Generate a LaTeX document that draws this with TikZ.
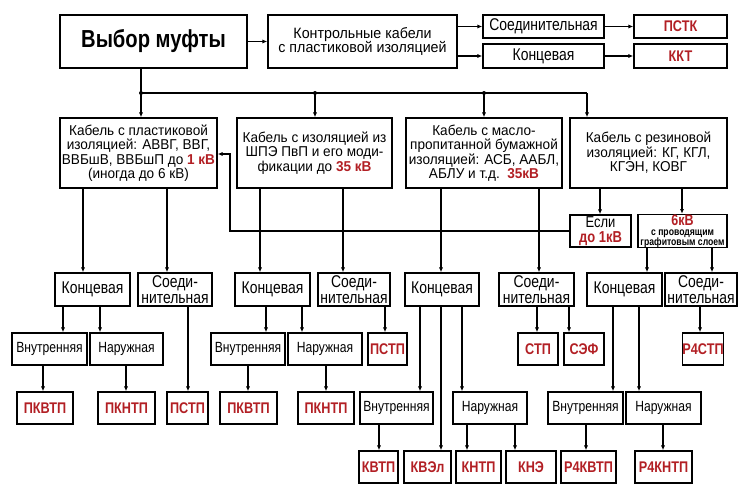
\documentclass[tikz,border=0pt]{standalone}
\usepackage{fontspec}
\setmainfont{Liberation Sans}[FakeStretch=0.95]
\newfontfamily\cond{Liberation Sans}[FakeStretch=0.82]
\usetikzlibrary{arrows.meta}
\definecolor{mred}{HTML}{B21F24}
\newcommand{\kv}[1]{\textcolor{mred}{\bfseries #1}}
\newcommand{\tinyb}{\cond\fontsize{9}{8}\selectfont\bfseries}
\begin{document}
\begin{tikzpicture}[x=0.03cm,y=-0.03cm,
  box/.style={draw,line width=1.4pt,inner sep=0pt,align=center,
    font=\fontsize{12.2}{12.3}\selectfont},
  lbl/.style={box,font=\cond\fontsize{14.5}{13.8}\selectfont},
  sub/.style={box,font=\cond\fontsize{12.6}{12}\selectfont},
  code/.style={box,font=\cond\fontsize{13.2}{12}\selectfont\bfseries,text=mred},
  sz/.style 2 args={minimum width=#1*0.03cm,minimum height=#2*0.03cm},
  arr/.style={line width=1.1pt,-{Latex[length=4pt,width=3.5pt]}},
  line/.style={line width=1.1pt}]
  \useasboundingbox (0,0) rectangle (750,500);
  \node[box,sz={187}{53},font=\cond\fontsize{21}{24}\selectfont\bfseries] (choice) at (153.5,41.5) {Выбор муфты};
  \node[box,sz={189}{53},font=\fontsize{12.8}{12.5}\selectfont] (ctrl) at (362.5,41.5) {Контрольные кабели\\с пластиковой изоляцией};
  \node[lbl,sz={121}{23},font=\cond\fontsize{14.5}{12}\selectfont] (ctrlS) at (543.5,26.5) {Соединительная};
  \node[lbl,sz={121}{24},font=\cond\fontsize{14.5}{12}\selectfont] (ctrlK) at (543.5,56) {Концевая};
  \node[code,sz={93}{23}] (pstk) at (680.5,26.5) {ПСТК};
  \node[code,sz={93}{24}] (kkt) at (680.5,56) {ККТ};
  \node[box,sz={157}{70}] (cab1) at (138.5,153)
    {Кабель с пластиковой\\изоляцией: АВВГ, ВВГ,\\ВВБшВ, ВВБшП до \kv{1 кВ}\\(иногда до 6 кВ)};
  \node[box,sz={155}{70}] (cab2) at (314.5,153)
    {Кабель с изоляцией из\\ШПЭ ПвП и его моди-\\фикации до \kv{35 кВ}};
  \node[box,sz={156}{70}] (cab3) at (484,153)
    {Кабель с масло-\\пропитанной бумажной\\изоляцией: АСБ, ААБЛ,\\АБЛУ и т.д.\ \ \kv{35кВ}};
  \node[box,sz={157}{70}] (cab4) at (648.5,153)
    {Кабель с резиновой\\изоляцией: КГ, КГЛ,\\КГЭН, КОВГ};
  \node[lbl,sz={61}{32},font=\cond\fontsize{13.5}{12.5}\selectfont] (esli) at (600.5,231) {Если\\\kv{до 1кВ}};
  \node[box,sz={89}{32},font=\cond\fontsize{13}{8.6}\selectfont] (six) at (682.5,231)
    {\kv{6кВ}\\\tinyb с проводящим\\\tinyb графитовым слоем};
  \foreach \n/\x/\w/\t in {k1/92.5/75/Концевая, s1/175/74/Соеди-\\нительная,
      k2/272.5/75/Концевая, s2/354/72/Соеди-\\нительная, k3/442/74/Концевая,
      s3/536.5/75/Соеди-\\нительная, k4/624.5/75/Концевая, s4/701/72/Соеди-\\нительная}
    \node[lbl,sz={\w}{33}] (\n) at (\x,289.5) {\t};
  \foreach \n/\x/\w/\t in {v1/49.5/75/Внутренняя, n1/126.5/73/Наружная,
      v2/248/74/Внутренняя, n2/325/74/Наружная}
    \node[sub,sz={\w}{32}] (\n) at (\x,349) {\t};
  \foreach \n/\x/\w/\t in {pstp2/387.5/39/ПСТП, stp/538/40/СТП, sef/584/40/СЭФ, r4stp/703/40/Р4СТП}
    \node[code,sz={\w}{32}] (\n) at (\x,349) {\t};
  \foreach \n/\x/\w/\t in {pkvtp1/45/56/ПКВТП, pkntp1/126.5/57/ПКНТП, pstp1/187.5/41/ПСТП,
      pkvtp2/248.5/57/ПКВТП, pkntp2/326/56/ПКНТП}
    \node[code,sz={\w}{32}] (\n) at (\x,408) {\t};
  \foreach \n/\x/\w/\t in {v3/396.5/73/Внутренняя, n3/490/74/Наружная,
      v4/585.5/75/Внутренняя, n4/663.5/75/Наружная}
    \node[sub,sz={\w}{32}] (\n) at (\x,408) {\t};
  \foreach \n/\x/\w/\t in {kvtp/378.5/39/КВТП, kvel/427.5/47/КВЭл, kntp/478.5/45/КНТП,
      kne/531/50/КНЭ, r4kvtp/588.5/55/Р4КВТП, r4kntp/663.5/57/Р4КНТП}
    \node[code,sz={\w}{32}] (\n) at (\x,467) {\t};
  \coordinate (b1) at (141,93);
  \coordinate (b2) at (315,93);
  \coordinate (b3) at (484,93);
  \coordinate (b4) at (587,93);
  \coordinate (bend) at (230,154);
  \draw[line] (choice.south -| b1) -- (b1) -- (b4);
  \foreach \c/\b in {cab1/b1,cab2/b2,cab3/b3,cab4/b4}
    \draw[arr] (\b) -- (\b |- \c.north);
  \foreach \b in {b1,b2,b3}
    \fill (\b) circle (1.7pt);
  \draw[arr] (choice) -- (ctrl);
  \draw[arr] (ctrl.east |- ctrlS) -- (ctrlS);
  \draw[arr] (ctrl.east |- ctrlK) -- (ctrlK);
  \draw[arr] (ctrlS) -- (pstk);
  \draw[arr] (ctrlK) -- (kkt);
  \draw[arr] (esli.west) -| (bend) -- (bend -| cab1.east);
  \foreach \a/\b/\x in {cab1/k1/83, cab1/s1/167, cab2/k2/260, cab2/s2/343, cab3/k3/441,
      cab3/s3/539, cab4/esli/600, cab4/six/682, six/k4/647, six/s4/712,
      k1/v1/63, k1/n1/100, s1/pstp1/188, k2/v2/266, k2/n2/302, s2/pstp2/385,
      s3/stp/537, s3/sef/569, s4/r4stp/700, v1/pkvtp1/43, n1/pkntp1/126,
      v2/pkvtp2/248, n2/pkntp2/326, k3/v3/420, k3/kvel/441, k3/n3/462,
      k4/v4/613, k4/n4/639, v3/kvtp/379, n3/kntp/467, n3/kne/515,
      v4/r4kvtp/586, n4/r4kntp/663}
    \draw[arr] (\x,0 |- \a.south) -- (\x,0 |- \b.north);
\end{tikzpicture}
\end{document}
